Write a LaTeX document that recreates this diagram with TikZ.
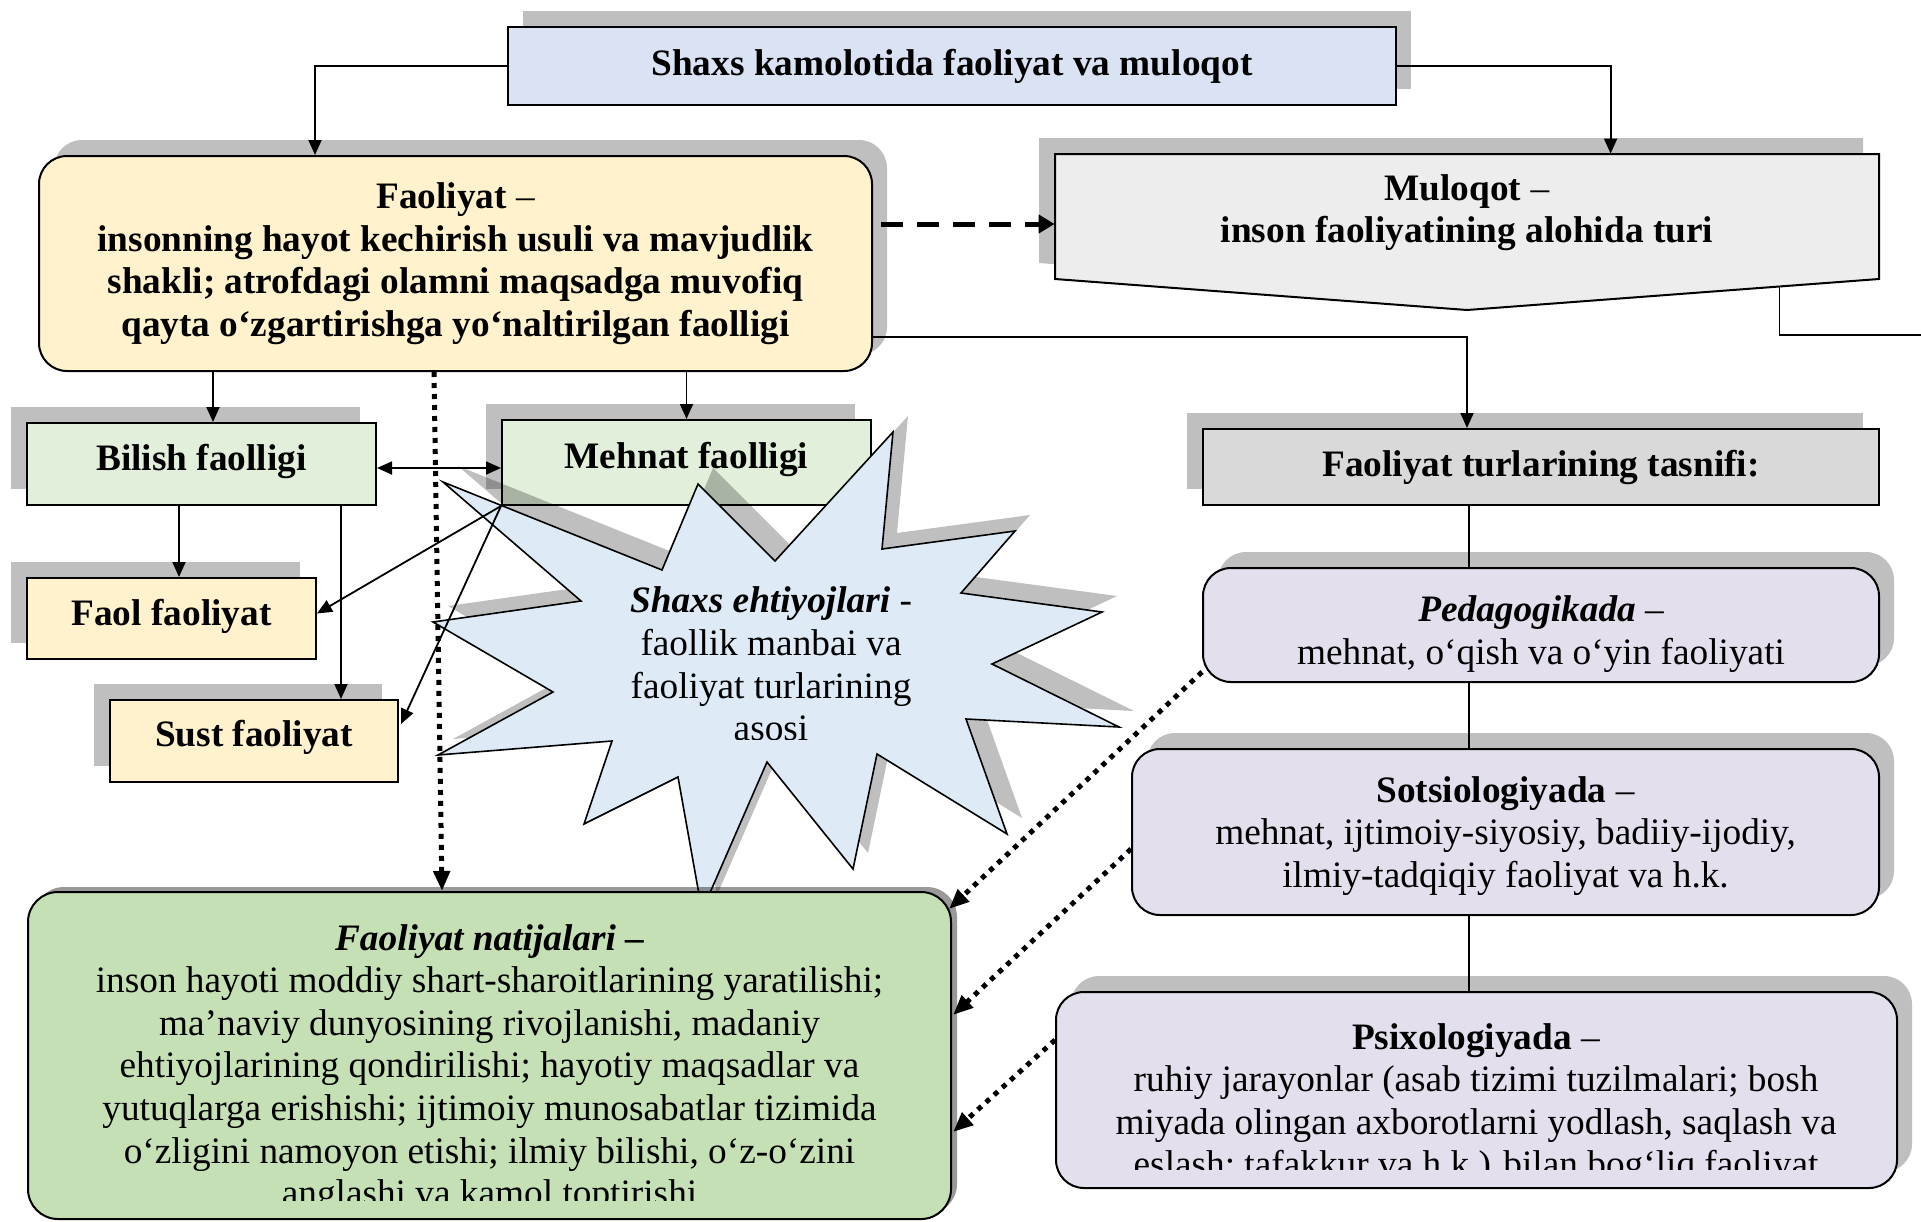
\documentclass[tikz,border=0pt]{standalone}
\usepackage{fontspec}
\setmainfont{Liberation Serif}
\usetikzlibrary{arrows.meta,shadows,fit,calc}

\definecolor{titleblue}{HTML}{DAE3F3}
\definecolor{creamyellow}{HTML}{FFF2CC}
\definecolor{mintgreen}{HTML}{E2EFDA}
\definecolor{leafgreen}{HTML}{C5E0B4}
\definecolor{paperwhite}{HTML}{EDEDED}
\definecolor{midgray}{HTML}{D9D9D9}
\definecolor{lilac}{HTML}{E4DFEC}
\definecolor{skyblue}{HTML}{DEEBF7}
\definecolor{shadowgray}{HTML}{BFBFBF}

\tikzset{
    every node/.style={font=\fontsize{18.65}{21.3}\selectfont},
    box/.style={draw, line width=1pt, inner sep=0pt, align=center},
    roundbox/.style={box, rounded corners=14pt},
    boxtext/.style={inner sep=0pt, align=center},
    shadowleft/.style={drop shadow={shadow xshift=-8pt, shadow yshift=8pt, opacity=1, fill=shadowgray}},
    shadowright/.style={drop shadow={shadow xshift=7.5pt, shadow yshift=8pt, opacity=1, fill=shadowgray}},
    bareline/.style={line width=0.9pt},
    link/.style={bareline, -{Triangle[length=7.5pt, width=6.5pt]}},
    twoway/.style={bareline, {Triangle[length=7.5pt, width=6.5pt]}-{Triangle[length=7.5pt, width=6.5pt]}},
    dashlink/.style={line width=2.5pt, dash pattern=on 11pt off 7pt, -{Triangle[length=8pt, width=9pt]}},
    dotlink/.style={line width=2.5pt, dash pattern=on 2.5pt off 3pt, -{Triangle[length=10pt, width=8pt]}},
}

\begin{document}
\begin{tikzpicture}[x=0.5pt, y=-0.5pt]
    \useasboundingbox (0,0) rectangle (1921,1221);

    % top
    \node[box, shadowright, fill=titleblue, fit={(508,27) (1396,105)}] (title) {};
    \node[boxtext] (titletext) at (title.center) {\textbf{Shaxs kamolotida faoliyat va muloqot}};
    \node[roundbox, shadowright, fill=creamyellow, fit={(39,156) (872,371)}] (faoliyat) {};
    \node[boxtext] (faoliyattext) at (faoliyat.center)
        {\textbf{Faoliyat} –\\ \textbf{insonning hayot kechirish usuli va mavjudlik}\\ \textbf{shakli; atrofdagi olamni maqsadga muvofiq}\\ \textbf{qayta o‘zgartirishga yo‘naltirilgan faolligi}};

    \coordinate (M1) at (1055,154);
    \coordinate (M2) at (1879,279);
    \filldraw[line width=1pt, fill=paperwhite, shadowleft] (M1) -| (M2) -- (1467,310) -- (M1 |- M2) -- cycle;
    \node[boxtext, fit=(M1)(M2)] (muloqot) {};
    \node[boxtext] (muloqottext) at ($(muloqot.center)+(0,-4)$) {\textbf{Muloqot} –\\ \textbf{inson faoliyatining alohida turi}};

    % right column
    \node[box, shadowleft, fill=midgray, fit={(1203,429) (1879,505)}] (tasnifi) {};
    \node[boxtext] (tasnifitext) at (tasnifi.center) {\textbf{Faoliyat turlarining tasnifi:}};
    \node[roundbox, shadowright, fill=lilac, fit={(1203,568) (1879,682)}] (pedagog) {};
    \node[boxtext] (pedagogtext) at ($(pedagog.center)+(0,9)$) {\textbf{\textit{Pedagogikada}} –\\ mehnat, o‘qish va o‘yin faoliyati};
    \node[roundbox, shadowright, fill=lilac, fit={(1132,749) (1879,915)}] (sotsio) {};
    \node[boxtext] (sotsiotext) at ($(sotsio.center)+(0,4)$) {\textbf{Sotsiologiyada} –\\ mehnat, ijtimoiy-siyosiy, badiiy-ijodiy,\\ ilmiy-tadqiqiy faoliyat va h.k.};
    \node[roundbox, shadowright, fill=lilac, fit={(1056,992) (1897,1188)}] (psixo) {};
    \begin{scope}
        \clip (1056,992) rectangle (1897,1169);
        \node[boxtext] (psixotext) at (1476,1104) {\textbf{Psixologiyada} –\\ ruhiy jarayonlar (asab tizimi tuzilmalari; bosh\\ miyada olingan axborotlarni yodlash, saqlash va\\ eslash; tafakkur va h.k.) bilan bog‘liq faoliyat};
    \end{scope}

    % left column
    \node[box, shadowleft, fill=mintgreen, fit={(27,423) (376,505)}] (bilish) {};
    \node[boxtext] (bilishtext) at ($(bilish.center)+(0,-3)$) {\textbf{Bilish faolligi}};
    \node[box, shadowleft, fill=mintgreen, fit={(502,420) (871,505)}] (mehnat) {};
    \node[boxtext] (mehnattext) at ($(mehnat.center)+(0,-3)$) {\textbf{Mehnat faolligi}};
    \node[box, shadowleft, fill=creamyellow, fit={(27,578) (316,659)}] (faol) {};
    \node[boxtext] (faoltext) at ($(faol.center)+(0,-2)$) {\textbf{Faol faoliyat}};
    \node[box, shadowleft, fill=creamyellow, fit={(110,700) (398,782)}] (sust) {};
    \node[boxtext] (susttext) at ($(sust.center)+(0,-4)$) {\textbf{Sust faoliyat}};

    % needs star
    \filldraw[line width=0.8pt, fill=skyblue, drop shadow={shadow xshift=7.5pt, shadow yshift=8pt, opacity=0.25, fill=black}]
        (443,482) -- (662,570) -- (698,484) -- (775,561) -- (893,432) -- (882,549) -- (1015,531) -- (961,593)
        -- (1102,612) -- (992,664) -- (1119,727) -- (966,719) -- (1007,834) -- (877,754) -- (853,869) -- (767,762)
        -- (702,911) -- (678,777) -- (584,824) -- (612,741) -- (438,755) -- (553,692) -- (433,622) -- (581,601) -- cycle;
    \begin{scope}
        \clip (500,560) rectangle (1050,739);
        \node[boxtext] (needs) at (771,664) {\textbf{\textit{Shaxs ehtiyojlari}} -\\ faollik manbai va\\ faoliyat turlarining\\ asosi};
    \end{scope}

    % connectors
    \draw[link] (title.west) -| ($(faoliyat.north west)+(277,0)$);
    \draw[link] (title.east) -| ($(muloqot.north west)+(556,0)$);
    \coordinate (dashstart) at ($(faoliyat.north east)+(8,69)$);
    \draw[dashlink] (dashstart) -- (dashstart -| muloqot.west);
    \draw[link] ($(faoliyat.south east)+(0,-35)$) -| ($(tasnifi.north west)+(265,0)$);
    \coordinate (rightedge) at (1921,335);
    \draw[bareline] ($(muloqot.south east)+(-100,8)$) |- (rightedge);

    \coordinate (spine) at (1469,0);
    \draw[bareline] (tasnifi.south -| spine) -- (pedagog.north -| spine);
    \draw[bareline] (pedagog.south -| spine) -- (sotsio.north -| spine);
    \draw[bareline] (sotsio.south -| spine) -- (psixo.north -| spine);

    \coordinate (fb) at ($(faoliyat.south west)+(175,0)$);
    \draw[link] (fb) -- (fb |- bilish.north);
    \draw[link] (mehnat.north |- faoliyat.south) -- (mehnat.north);
    \draw[twoway] ($(bilish.east)+(0,4)$) -- ($(mehnat.west)+(0,5.5)$);
    \draw[link] ($(bilish.south west)+(153,0)$) -- ($(faol.north west)+(153,0)$);
    \draw[link] ($(bilish.south west)+(315,0)$) -- ($(sust.north west)+(232,0)$);
    \draw[link] (mehnat.south west) -- ($(faol.east)+(0,-5)$);
    \draw[link] (mehnat.south west) -- ($(sust.east)+(2,-17)$);

    % results
    \node[roundbox, rounded corners=15pt, fill=leafgreen, drop shadow={shadow xshift=3pt, shadow yshift=2.5pt, opacity=0.4, fill=black}, fit={(28,892) (951,1219)}] (result) {};
    \begin{scope}
        \clip (28,892) rectangle (951,1200);
        \node[boxtext] (resulttext) at (489.5,1069) {\textbf{\textit{Faoliyat natijalari –}}\\
            inson hayoti moddiy shart-sharoitlarining yaratilishi;\\
            ma’naviy dunyosining rivojlanishi, madaniy\\
            ehtiyojlarining qondirilishi; hayotiy maqsadlar va\\
            yutuqlarga erishishi; ijtimoiy munosabatlar tizimida\\
            o‘zligini namoyon etishi; ilmiy bilishi, o‘z-o‘zini\\
            anglashi va kamol toptirishi};
    \end{scope}

    \draw[dotlink] ($(faoliyat.south west)+(396,0)$) -- ($(result.north west)+(415,0)$);
    \draw[dotlink] ($(pedagog.south west)+(0,-11)$) -- ($(result.north east)+(-3,18)$);
    \draw[dotlink] ($(sotsio.west)+(0,17)$) -- ($(result.north east)+(1,124)$);
    \draw[dotlink] ($(psixo.north west)+(0,49)$) -- ($(result.north east)+(1,241)$);
\end{tikzpicture}
\end{document}
